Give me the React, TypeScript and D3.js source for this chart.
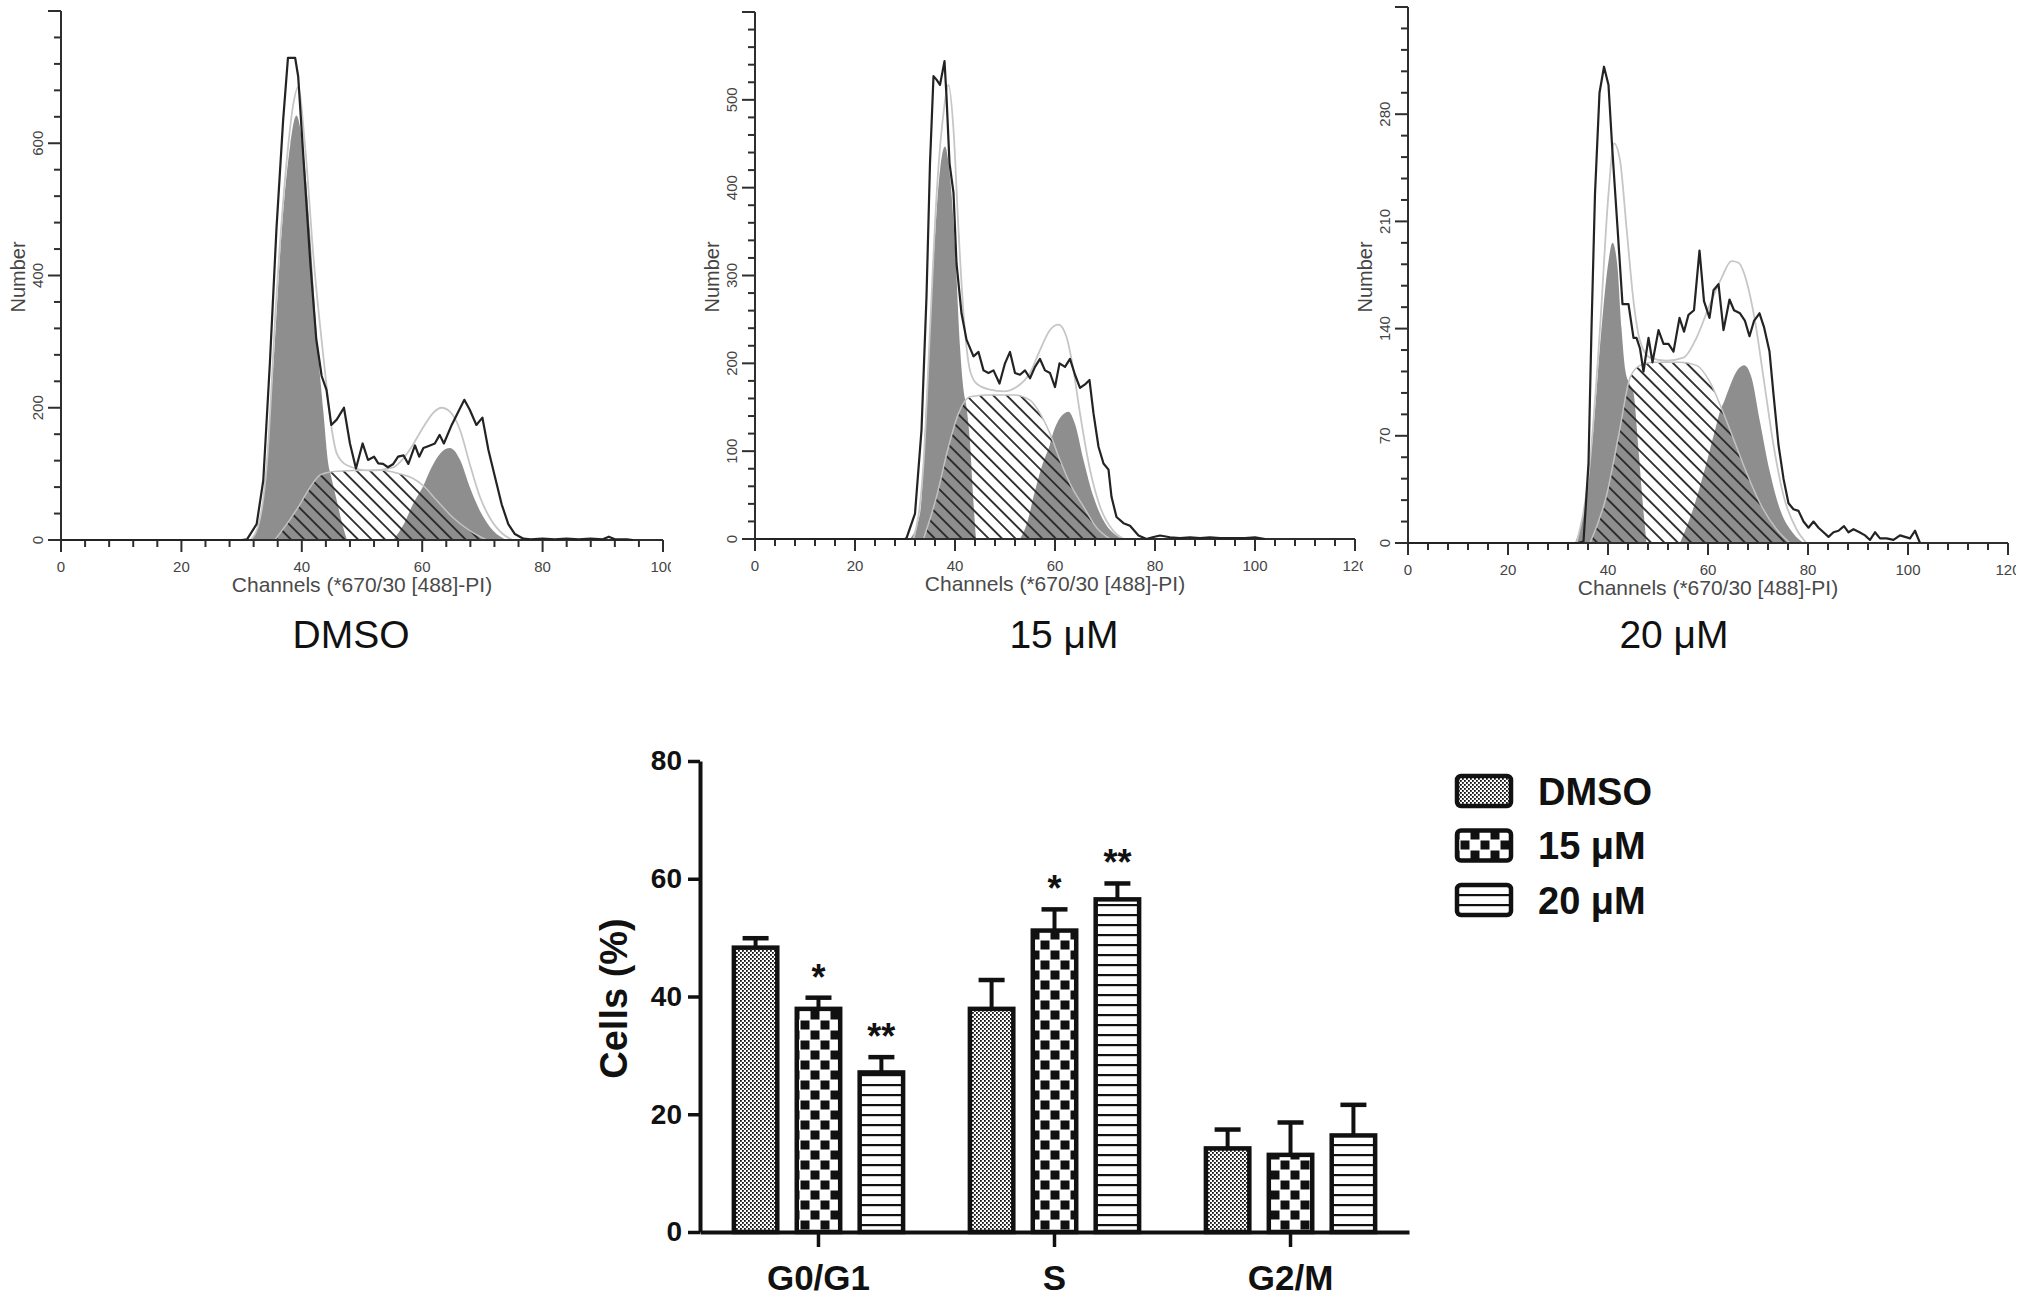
import { useEffect, useRef } from 'react'
import * as d3 from 'd3'

type Pt = [number, number] // [channel, count]

// ---- flow cytometry histograms ----
const dmsoRaw: Pt[] = [
  [0, 0], [30, 0], [30.9, 1], [32.5, 24], [33.6, 90], [34.7, 268], [35.8, 472], [36.9, 635], [37.7, 729], [38.9, 729],
  [39.4, 701], [40.3, 574], [41.4, 421], [42.4, 304], [43.3, 248], [44.1, 227], [44.9, 174], [45.8, 182], [47.0, 200],
  [48.0, 146], [49.0, 108], [50.1, 146], [51.0, 121], [52.0, 126], [52.7, 116], [53.5, 115], [54.3, 110], [55.2, 115],
  [56.0, 126], [56.9, 128], [57.7, 115], [58.8, 143], [59.5, 126], [60.2, 139], [61.3, 143], [62.1, 146], [62.9, 159],
  [63.6, 146], [64.9, 174], [66.0, 194], [67.0, 212], [67.9, 197], [69.0, 174], [70.0, 185], [71.0, 136], [72.1, 95],
  [73.2, 54], [74.3, 24], [75.4, 9], [76.8, 2], [78, 1], [80, 2], [82, 1], [84, 2], [86, 1], [88, 2], [90, 1], [91, 5],
  [92, 1], [94, 1], [95, 0],
]
const dmsoG1: Pt[] = [
  [31.5, 0], [32.5, 15], [33.6, 65], [35.3, 268], [36.7, 472], [38.1, 599], [39.1, 642], [40.3, 584], [41.4, 461],
  [42.4, 319], [43.6, 192], [44.4, 115], [44.9, 95], [45.8, 60], [46.7, 25], [47.5, 0],
]
const dmsoS: Pt[] = [
  [35.5, 0], [37.5, 24], [39.7, 54], [41.4, 80], [43.0, 98], [44.7, 103], [48.6, 105], [53.0, 106], [56.3, 100],
  [58.5, 93], [60.2, 82], [62.4, 60], [65.1, 34], [67.9, 14], [70.7, 0],
]
const dmsoG2: Pt[] = [
  [55.2, 0], [57.0, 25], [58.5, 55], [60.2, 82], [61.3, 105], [63.0, 131], [64.6, 139], [66.3, 121], [67.9, 80],
  [69.6, 44], [71.8, 14], [74.0, 0],
]
const dmsoFit: Pt[] = [
  [31.5, 0], [33, 30], [34.2, 115], [35.8, 370], [37.5, 574], [38.6, 660], [39.4, 685], [40.5, 600], [42.0, 421],
  [43.7, 268], [45.0, 166], [45.8, 131], [47.5, 113], [51.3, 105], [55.2, 110], [57.9, 136], [60.2, 171], [61.8, 192],
  [63.2, 200], [64.6, 194], [66.3, 166], [67.9, 115], [69.6, 65], [71.2, 34], [73.4, 9], [75, 0],
]

const um15Raw: Pt[] = [
  [0, 0], [30, 0], [30.3, 1], [32.0, 29], [33.3, 124], [34.3, 276], [35.0, 428], [35.7, 527], [36.3, 523], [37.0, 517],
  [37.9, 544], [38.3, 504], [38.9, 428], [39.7, 394], [40.3, 314], [41.3, 257], [42.3, 227], [43.7, 208], [44.7, 213],
  [45.7, 192], [46.7, 189], [47.7, 192], [48.9, 177], [50.0, 200], [51.0, 213], [52.0, 189], [53.0, 187], [54.0, 192],
  [55.0, 183], [56.0, 196], [57.0, 205], [58.0, 192], [59.0, 189], [60.0, 173], [60.9, 200], [62.0, 196], [63.0, 205],
  [64.0, 187], [65.0, 172], [66.0, 176], [66.9, 181], [67.7, 143], [68.7, 105], [69.7, 86], [70.7, 79], [71.3, 48],
  [72.3, 25], [73.7, 18], [75.0, 15], [76.7, 4], [78.3, 0], [79.5, 2], [81, 4], [83, 2], [85, 1], [87, 2], [89, 1],
  [91, 2], [93, 1], [96, 1], [98, 1], [100, 2], [102, 0],
]
const um15G1: Pt[] = [
  [31, 0], [33, 29], [34.3, 162], [35.7, 314], [37.0, 420], [38.0, 447], [39.0, 413], [40.0, 333], [41.0, 219],
  [41.7, 170], [42.3, 150], [43.0, 110], [43.6, 50], [44.2, 0],
]
const um15S: Pt[] = [
  [33.7, 0], [36.3, 48], [38.7, 105], [40.7, 143], [43.0, 162], [46.3, 164], [51.7, 164], [55.0, 158], [57.0, 143],
  [59.0, 120], [61.0, 90], [63.0, 63], [65.7, 37], [68.3, 13], [71, 0],
]
const um15G2: Pt[] = [
  [53, 0], [54.5, 20], [55.7, 48], [57.5, 85], [59, 108], [59.7, 122], [60.5, 133], [61.3, 140], [62.7, 145],
  [64.0, 131], [65.7, 90], [67.7, 48], [69.7, 21], [72.3, 4], [73.7, 0],
]
const um15Fit: Pt[] = [
  [31.7, 0], [33.7, 86], [35.0, 238], [36.3, 390], [37.7, 485], [38.7, 517], [39.7, 466], [40.7, 352], [41.7, 257],
  [43.0, 192], [44.3, 177], [47.0, 170], [49.7, 168], [52.3, 173], [55.0, 189], [57.0, 215], [59.0, 238], [60.7, 244],
  [62.3, 230], [63.7, 192], [65.0, 143], [67.0, 79], [69.0, 37], [71.7, 9], [73.7, 0],
]

const um20Raw: Pt[] = [
  [0, 0], [34, 0], [35.1, 1], [36.1, 52], [36.7, 140], [37.4, 228], [38.3, 294], [39.2, 311], [40.1, 299], [40.9, 255],
  [41.9, 206], [42.9, 156], [44.1, 156], [45.1, 134], [45.7, 134], [46.4, 127], [47.1, 112], [48.1, 134], [48.9, 118],
  [50.1, 139], [51.1, 130], [52.1, 130], [53.1, 125], [54.3, 147], [55.2, 138], [56.1, 149], [57.2, 152], [58.3, 191],
  [59.2, 158], [60.3, 147], [61.1, 165], [62.1, 169], [63.1, 139], [64.3, 159], [65.2, 152], [66.4, 150], [67.4, 145],
  [68.3, 135], [69.2, 145], [70.3, 150], [71.2, 141], [72.3, 125], [73.1, 97], [74.1, 64], [75.1, 42], [76.1, 26],
  [77.1, 22], [78.1, 21], [79.1, 14], [80.1, 10], [81.1, 14], [82.1, 10], [83.1, 7], [84.1, 4], [85.1, 7], [86.1, 8],
  [87.2, 11], [88.1, 7], [89.1, 9], [90.3, 7], [91.4, 5], [92.4, 2], [93.4, 7], [94.4, 3], [95.7, 3], [97.1, 2],
  [98.4, 5], [99.4, 4], [100.4, 3], [101.4, 8], [102.4, 0],
]
const um20G1: Pt[] = [
  [33.4, 0], [35.1, 20], [37.1, 75], [38.7, 140], [40.1, 184], [40.9, 196], [41.9, 180], [42.7, 140], [43.5, 112],
  [44.3, 104], [45.1, 98], [46.0, 65], [46.9, 28], [47.7, 0],
]
const um20S: Pt[] = [
  [36.4, 0], [39.7, 31], [42.4, 75], [44.4, 108], [46.4, 116], [49.1, 118], [54.4, 118], [57.7, 116], [60.4, 105],
  [62.7, 88], [65.1, 68], [67.7, 46], [70.4, 26], [73.7, 9], [76.4, 0],
]
const um20G2: Pt[] = [
  [54.4, 0], [57, 22], [59.5, 50], [61.5, 75], [62.4, 86], [63.3, 93], [64.1, 100], [65.7, 112], [67.2, 116],
  [68.7, 108], [70.4, 79], [72.4, 46], [74.4, 22], [77.1, 6], [79.1, 0],
]
const um20Fit: Pt[] = [
  [33.7, 0], [36.4, 53], [38.4, 140], [40.1, 228], [41.2, 261], [42.4, 250], [43.7, 206], [45.1, 158], [46.4, 132],
  [48.4, 121], [51.7, 119], [55.1, 121], [57.7, 134], [60.4, 156], [62.7, 173], [64.7, 184], [66.1, 183], [67.7, 171],
  [69.4, 145], [71.1, 108], [73.1, 64], [75.1, 31], [77.7, 9], [79.7, 0],
]

const panelTitles = ['DMSO', '15 μM', '20 μM']
const panelXMax = [100, 120, 120]
const panelYMax = [800, 600, 350]
const panelYLabelStep = [200, 100, 70]
const panelYMinorStep = [40, 20, 14]

// ---- bar chart ----
const phases = ['G0/G1', 'S', 'G2/M']
const treatments = ['DMSO', '15 μM', '20 μM']
const dmsoMean = [48.3, 37.9, 14.2]
const dmsoErr = [1.6, 4.9, 3.2]
const um15Mean = [37.9, 51.2, 13.1]
const um15Err = [1.9, 3.6, 5.5]
const um20Mean = [27.1, 56.5, 16.4]
const um20Err = [2.6, 2.7, 5.2]
const dmsoSig = ['', '', '']
const um15Sig = ['*', '*', '']
const um20Sig = ['**', '**', '']
const barTicks = [0, 20, 40, 60, 80]

const FONT = "'Liberation Sans', Arial, Helvetica, sans-serif"
const PEAK_GRAY = '#8e8e8e'

const histLayout = [
  { left: 61, right: 663, base: 540, top: 11, titleX: 351 },
  { left: 755, right: 1355, base: 539, top: 12, titleX: 1064 },
  { left: 1408, right: 2008, base: 543, top: 7, titleX: 1674 },
]

const App = () => {
  const svgRef = useRef<SVGSVGElement>(null)

  useEffect(() => {
    if (!svgRef.current) return
    const svg = d3.select(svgRef.current)
    svg.selectAll('*').remove()

    const defs = svg.append('defs')

    // diagonal hatch for S phase
    const hatch = defs
      .append('pattern')
      .attr('id', 'hatch')
      .attr('patternUnits', 'userSpaceOnUse')
      .attr('width', 9.5)
      .attr('height', 9.5)
      .attr('patternTransform', 'rotate(-45)')
    hatch
      .append('line')
      .attr('x1', 4.75).attr('y1', -1).attr('x2', 4.75).attr('y2', 10.5)
      .attr('stroke', '#262626')
      .attr('stroke-width', 1.8)

    // bar fill patterns
    const pDmso = defs.append('pattern').attr('id', 'patDmso')
      .attr('patternUnits', 'userSpaceOnUse').attr('width', 4).attr('height', 4)
    pDmso.append('rect').attr('width', 4).attr('height', 4).attr('fill', '#fff')
    pDmso.append('rect').attr('x', 0).attr('y', 0).attr('width', 1.8).attr('height', 1.8).attr('fill', '#111')
    pDmso.append('rect').attr('x', 2).attr('y', 2).attr('width', 1.8).attr('height', 1.8).attr('fill', '#111')

    const p15 = defs.append('pattern').attr('id', 'pat15')
      .attr('patternUnits', 'userSpaceOnUse').attr('width', 20).attr('height', 20)
    p15.append('rect').attr('width', 20).attr('height', 20).attr('fill', '#fff')
    p15.append('rect').attr('x', 0.5).attr('y', 0.5).attr('width', 9).attr('height', 9).attr('fill', '#111')
    p15.append('rect').attr('x', 10.5).attr('y', 10.5).attr('width', 9).attr('height', 9).attr('fill', '#111')

    const p20 = defs.append('pattern').attr('id', 'pat20')
      .attr('patternUnits', 'userSpaceOnUse').attr('width', 10).attr('height', 10)
    p20.append('rect').attr('width', 10).attr('height', 10).attr('fill', '#fff')
    p20.append('rect').attr('x', 0).attr('y', 4).attr('width', 10).attr('height', 2.2).attr('fill', '#111')

    // ---------------- histograms ----------------
    const panels = [
      { raw: dmsoRaw, g1: dmsoG1, s: dmsoS, g2: dmsoG2, fit: dmsoFit },
      { raw: um15Raw, g1: um15G1, s: um15S, g2: um15G2, fit: um15Fit },
      { raw: um20Raw, g1: um20G1, s: um20S, g2: um20G2, fit: um20Fit },
    ]

    panels.forEach((p, i) => {
      const L = histLayout[i]
      const x = d3.scaleLinear().domain([0, panelXMax[i]]).range([L.left, L.right])
      const y = d3.scaleLinear().domain([0, panelYMax[i]]).range([L.base, L.top])
      const g = svg.append('g')

      const area = d3.area<Pt>().x(d => x(d[0])).y0(L.base).y1(d => y(d[1])).curve(d3.curveMonotoneX)
      const smooth = d3.line<Pt>().x(d => x(d[0])).y(d => y(d[1])).curve(d3.curveMonotoneX)
      const raw = d3.line<Pt>().x(d => x(d[0])).y(d => y(d[1]))

      g.append('path').attr('d', area(p.g1)).attr('fill', PEAK_GRAY)
      g.append('path').attr('d', area(p.g2)).attr('fill', PEAK_GRAY)
      g.append('path').attr('d', area(p.s)).attr('fill', 'url(#hatch)')
      g.append('path').attr('d', smooth(p.s)).attr('fill', 'none').attr('stroke', '#c2c2c2').attr('stroke-width', 1.5)
      g.append('path').attr('d', smooth(p.fit)).attr('fill', 'none').attr('stroke', '#c6c6c6').attr('stroke-width', 1.8)

      // axes
      const axisColor = '#2e2e2e'
      g.append('line').attr('x1', L.left).attr('x2', L.right).attr('y1', L.base).attr('y2', L.base)
        .attr('stroke', axisColor).attr('stroke-width', 2)
      g.append('line').attr('x1', L.left).attr('x2', L.left).attr('y1', L.base).attr('y2', L.top)
        .attr('stroke', axisColor).attr('stroke-width', 2)

      d3.range(0, panelXMax[i] + 0.001, 4).forEach(v => {
        const major = v % 20 === 0
        g.append('line').attr('x1', x(v)).attr('x2', x(v)).attr('y1', L.base).attr('y2', L.base + (major ? 12 : 7))
          .attr('stroke', axisColor).attr('stroke-width', 2)
      })
      d3.range(0, panelYMax[i] + 0.001, panelYMinorStep[i]).forEach(v => {
        const major = v % panelYLabelStep[i] === 0
        g.append('line').attr('x1', L.left - (major ? 13 : 7)).attr('x2', L.left).attr('y1', y(v)).attr('y2', y(v))
          .attr('stroke', axisColor).attr('stroke-width', 2)
      })

      const clipId = `clip${i}`
      defs.append('clipPath').attr('id', clipId)
        .append('rect').attr('x', L.left - 20).attr('y', L.base).attr('width', L.right - L.left + 28).attr('height', 50)
      const xl = g.append('g').attr('clip-path', `url(#${clipId})`)
      d3.range(0, panelXMax[i] + 0.001, 20).forEach(v => {
        xl.append('text').attr('x', x(v)).attr('y', L.base + 32).attr('text-anchor', 'middle')
          .style('font-family', FONT).style('font-size', '15px').style('fill', '#444').text(v)
      })
      d3.range(0, panelYMax[i] - 0.001, panelYLabelStep[i]).forEach(v => {
        g.append('text').attr('transform', `translate(${L.left - 18},${y(v)}) rotate(-90)`)
          .attr('text-anchor', 'middle')
          .style('font-family', FONT).style('font-size', '15px').style('fill', '#444').text(v)
      })

      g.append('text').attr('transform', `translate(${L.left - 36},277) rotate(-90)`)
        .attr('text-anchor', 'middle')
        .style('font-family', FONT).style('font-size', '20px').style('fill', '#444').text('Number')
      g.append('text').attr('x', (L.left + L.right) / 2).attr('y', L.base + 52).attr('text-anchor', 'middle')
        .style('font-family', FONT).style('font-size', '21px').style('fill', '#4a4a4a')
        .text('Channels (*670/30 [488]-PI)')
      g.append('text').attr('x', L.titleX).attr('y', 648).attr('text-anchor', 'middle')
        .style('font-family', FONT).style('font-size', '39px').style('fill', '#111').text(panelTitles[i])

      g.append('path').attr('d', raw(p.raw)).attr('fill', 'none').attr('stroke', '#232323')
        .attr('stroke-width', 2.2).attr('stroke-linejoin', 'round')
    })

    // ---------------- bar chart ----------------
    const series = [
      { name: treatments[0], mean: dmsoMean, err: dmsoErr, sig: dmsoSig, fill: 'url(#patDmso)' },
      { name: treatments[1], mean: um15Mean, err: um15Err, sig: um15Sig, fill: 'url(#pat15)' },
      { name: treatments[2], mean: um20Mean, err: um20Err, sig: um20Sig, fill: 'url(#pat20)' },
    ]

    const x0 = d3.scaleBand().domain(phases).range([700, 1409]).paddingInner(0.266).paddingOuter(0.135)
    const x1 = d3.scaleBand().domain(treatments).range([0, x0.bandwidth()]).paddingInner(0.246)
    const yB = d3.scaleLinear().domain([0, 80]).range([1232, 761])

    const bar = svg.append('g')

    series.forEach(s => {
      phases.forEach((ph, j) => {
        const bx = x0(ph)! + x1(s.name)!
        const bw = x1.bandwidth()
        const cx = bx + bw / 2
        const top = yB(s.mean[j])
        const errTop = yB(s.mean[j] + s.err[j])
        bar.append('line').attr('x1', cx).attr('x2', cx).attr('y1', top).attr('y2', errTop)
          .attr('stroke', '#111').attr('stroke-width', 4)
        bar.append('line').attr('x1', cx - 13).attr('x2', cx + 13).attr('y1', errTop).attr('y2', errTop)
          .attr('stroke', '#111').attr('stroke-width', 4.5)
        bar.append('rect').attr('x', bx + 2).attr('y', top).attr('width', bw - 4).attr('height', yB(0) - top)
          .attr('fill', s.fill).attr('stroke', '#111').attr('stroke-width', 4.5)
        if (s.sig[j]) {
          bar.append('text').attr('x', cx).attr('y', errTop - 8).attr('text-anchor', 'middle')
            .style('font-family', FONT).style('font-size', '36px').style('font-weight', 'bold')
            .style('fill', '#111').text(s.sig[j])
        }
      })
    })

    const yAxis = bar.append('g').attr('transform', 'translate(700,0)')
      .call(d3.axisLeft(yB).tickValues(barTicks).tickSize(12).tickSizeOuter(0).tickPadding(6))
    yAxis.select('.domain').attr('stroke', '#111').attr('stroke-width', 4)
    yAxis.selectAll('.tick line').attr('stroke', '#111').attr('stroke-width', 3.5)
    yAxis.selectAll('text').style('font-family', FONT).style('font-size', '28px')
      .style('font-weight', 'bold').style('fill', '#111')

    const xAxis = bar.append('g').attr('transform', `translate(0,${yB(0)})`)
      .call(d3.axisBottom(x0).tickSize(15).tickSizeOuter(0).tickPadding(18))
    xAxis.select('.domain').attr('stroke', '#111').attr('stroke-width', 4)
    xAxis.selectAll('.tick line').attr('stroke', '#111').attr('stroke-width', 3.5)
    xAxis.selectAll('text').style('font-family', FONT).style('font-size', '35px')
      .style('font-weight', 'bold').style('fill', '#111')

    bar.append('text').attr('transform', `translate(627,${(yB(0) + yB(80)) / 2 + 2}) rotate(-90)`)
      .attr('text-anchor', 'middle')
      .style('font-family', FONT).style('font-size', '38px').style('font-weight', 'bold').style('fill', '#111')
      .text('Cells (%)')

    // legend
    series.forEach((s, i) => {
      const ly = 776 + i * 54.5
      bar.append('rect').attr('x', 1457).attr('y', ly).attr('width', 54).attr('height', 30).attr('rx', 4)
        .attr('fill', s.fill).attr('stroke', '#111').attr('stroke-width', 4.5)
      bar.append('text').attr('x', 1538).attr('y', ly + 15).attr('dy', '0.36em')
        .style('font-family', FONT).style('font-size', '38px').style('font-weight', 'bold').style('fill', '#111')
        .text(s.name)
    })
  }, [])

  return (
    <svg
      ref={svgRef}
      width={2031}
      height={1307}
      style={{ position: 'absolute', left: 0, top: 0, background: '#fff' }}
    />
  )
}

export default App
